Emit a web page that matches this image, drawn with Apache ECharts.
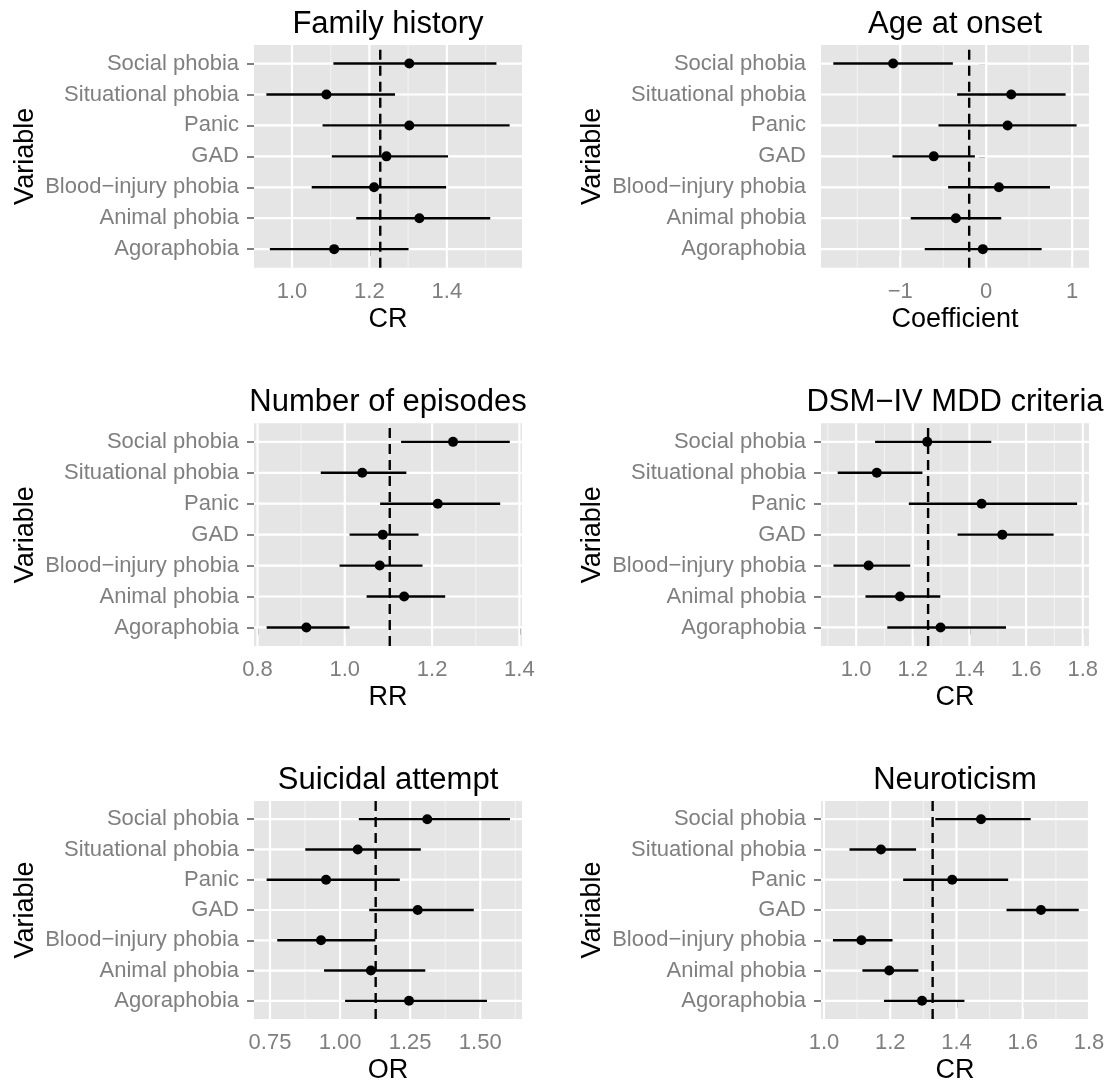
<!DOCTYPE html>
<html>
<head>
<meta charset="utf-8">
<script src="https://cdn.jsdelivr.net/npm/echarts@6/dist/echarts.min.js"></script>
<style>html,body{margin:0;padding:0;background:#fff}#c{width:1109px;height:1085px}</style>
</head>
<body>
<div id="c"></div>
<script>
// ---------- DATA ----------
// categories listed bottom -> top
const categories = ['Agoraphobia', 'Animal phobia', 'Blood\u2212injury phobia', 'GAD', 'Panic', 'Situational phobia', 'Social phobia'];
const panelTitles = ['Family history', 'Age at onset', 'Number of episodes', 'DSM\u2212IV MDD criteria', 'Suicidal attempt', 'Neuroticism'];
const axisTitles = ['CR', 'Coefficient', 'RR', 'CR', 'OR', 'CR'];
const refLines = [1.228, -0.198, 1.103, 1.254, 1.127, 1.328];

const familyEst  = [1.109, 1.329, 1.212, 1.244, 1.303, 1.089, 1.303];
const familyLow  = [0.943, 1.166, 1.051, 1.103, 1.079, 0.934, 1.107];
const familyHigh = [1.301, 1.512, 1.398, 1.403, 1.562, 1.266, 1.528];
const familyRange = [0.902, 1.594];
const familyTicks = [1.0, 1.2, 1.4];
const familyTickLabels = ['1.0', '1.2', '1.4'];
const familyMinor = [1.1, 1.3, 1.5];

const onsetEst  = [-0.039, -0.353, 0.148, -0.610, 0.249, 0.291, -1.083];
const onsetLow  = [-0.715, -0.878, -0.443, -1.091, -0.555, -0.338, -1.779];
const onsetHigh = [0.645, 0.175, 0.742, -0.132, 1.052, 0.924, -0.388];
const onsetRange = [-1.922, 1.196];
const onsetTicks = [-1, 0, 1];
const onsetTickLabels = ['\u22121', '0', '1'];
const onsetMinor = [-1.5, -0.5, 0.5];

const episodesEst  = [0.912, 1.136, 1.080, 1.087, 1.213, 1.040, 1.248];
const episodesLow  = [0.821, 1.050, 0.988, 1.011, 1.081, 0.945, 1.129];
const episodesHigh = [1.011, 1.230, 1.178, 1.169, 1.356, 1.141, 1.378];
const episodesRange = [0.792, 1.406];
const episodesTicks = [0.8, 1.0, 1.2, 1.4];
const episodesTickLabels = ['0.8', '1.0', '1.2', '1.4'];
const episodesMinor = [0.9, 1.1, 1.3];

const dsmEst  = [1.298, 1.155, 1.044, 1.516, 1.443, 1.073, 1.251];
const dsmLow  = [1.110, 1.033, 0.920, 1.358, 1.186, 0.935, 1.067];
const dsmHigh = [1.529, 1.297, 1.191, 1.697, 1.780, 1.234, 1.477];
const dsmRange = [0.876, 1.822];
const dsmTicks = [1.0, 1.2, 1.4, 1.6, 1.8];
const dsmTickLabels = ['1.0', '1.2', '1.4', '1.6', '1.8'];
const dsmMinor = [0.9, 1.1, 1.3, 1.5, 1.7];

const suicideEst  = [1.246, 1.110, 0.932, 1.277, 0.950, 1.063, 1.311];
const suicideLow  = [1.018, 0.943, 0.776, 1.104, 0.738, 0.876, 1.067];
const suicideHigh = [1.524, 1.304, 1.126, 1.477, 1.213, 1.288, 1.606];
const suicideRange = [0.693, 1.649];
const suicideTicks = [0.75, 1.00, 1.25, 1.50];
const suicideTickLabels = ['0.75', '1.00', '1.25', '1.50'];
const suicideMinor = [0.875, 1.125, 1.375, 1.625];

const neuroEst  = [1.296, 1.197, 1.113, 1.655, 1.387, 1.172, 1.474];
const neuroLow  = [1.181, 1.116, 1.027, 1.551, 1.239, 1.077, 1.336];
const neuroHigh = [1.424, 1.285, 1.207, 1.769, 1.556, 1.278, 1.624];
const neuroRange = [0.991, 1.800];
const neuroTicks = [1.0, 1.2, 1.4, 1.6, 1.8];
const neuroTickLabels = ['1.0', '1.2', '1.4', '1.6', '1.8'];
const neuroMinor = [1.1, 1.3, 1.5, 1.7];

// ---------- BUILD ----------
const panels = [
  {est: familyEst, low: familyLow, high: familyHigh, range: familyRange, ticks: familyTicks, labels: familyTickLabels, minor: familyMinor},
  {est: onsetEst, low: onsetLow, high: onsetHigh, range: onsetRange, ticks: onsetTicks, labels: onsetTickLabels, minor: onsetMinor},
  {est: episodesEst, low: episodesLow, high: episodesHigh, range: episodesRange, ticks: episodesTicks, labels: episodesTickLabels, minor: episodesMinor},
  {est: dsmEst, low: dsmLow, high: dsmHigh, range: dsmRange, ticks: dsmTicks, labels: dsmTickLabels, minor: dsmMinor},
  {est: suicideEst, low: suicideLow, high: suicideHigh, range: suicideRange, ticks: suicideTicks, labels: suicideTickLabels, minor: suicideMinor},
  {est: neuroEst, low: neuroLow, high: neuroHigh, range: neuroRange, ticks: neuroTicks, labels: neuroTickLabels, minor: neuroMinor}
];

const FONT = '"Liberation Sans", Arial, Helvetica, sans-serif';
const colLeft = [254, 821];
const rowTop = [45, 423.3, 801];
const W = 268, H = 222.7;
const YMIN = -0.6, YMAX = categories.length - 1 + 0.6;
const catIdx = categories.map((c, i) => i);

const grids = [], xAxes = [], yAxes = [], series = [], graphics = [];

panels.forEach((p, i) => {
  const col = i % 2, row = Math.floor(i / 2);
  const left = colLeft[col], top = rowTop[row];
  grids.push({left: left, top: top, width: W, height: H, show: true,
    backgroundColor: '#E5E5E5', borderWidth: 0});
  xAxes.push({
    gridIndex: i, type: 'value', min: p.range[0], max: p.range[1],
    axisLine: {show: false}, splitLine: {show: false},
    axisTick: {show: true, customValues: p.ticks, length: 7, lineStyle: {color: '#7F7F7F', width: 2}},
    axisLabel: {customValues: p.ticks, color: '#7F7F7F', fontSize: 22, fontFamily: FONT, margin: 13,
      formatter: v => { const k = p.ticks.findIndex(t => Math.abs(t - v) < 1e-9); return k >= 0 ? p.labels[k] : ''; }},
    name: axisTitles[i], nameLocation: 'middle', nameGap: 38,
    nameTextStyle: {color: '#000', fontSize: 27, fontFamily: FONT}
  });
  yAxes.push({
    gridIndex: i, type: 'value', min: YMIN, max: YMAX,
    axisLine: {show: false}, splitLine: {show: false},
    axisTick: {show: true, customValues: catIdx, length: 7, lineStyle: {color: '#7F7F7F', width: 2}},
    axisLabel: {customValues: catIdx, color: '#7F7F7F', fontSize: 22, fontFamily: FONT, margin: 15,
      formatter: v => categories[Math.round(v)] || ''},
    name: 'Variable', nameLocation: 'middle', nameGap: 215, nameRotate: 90,
    nameTextStyle: {color: '#000', fontSize: 27, fontFamily: FONT}
  });

  // grid lines (major vertical = 0, minor vertical = 1, horizontal category = 2)
  const gl = [];
  p.minor.forEach(v => gl.push([v, 1]));
  p.ticks.forEach(v => gl.push([v, 0]));
  catIdx.forEach(v => gl.push([v, 2]));
  series.push({
    type: 'custom', xAxisIndex: i, yAxisIndex: i, z: 1, silent: true, data: gl,
    renderItem: (params, api) => {
      const v = api.value(0), kind = api.value(1);
      let a, b;
      if (kind === 2) { a = api.coord([p.range[0], v]); b = api.coord([p.range[1], v]); }
      else { a = api.coord([v, YMIN]); b = api.coord([v, YMAX]); }
      return {type: 'line', shape: {x1: a[0], y1: a[1], x2: b[0], y2: b[1]},
        style: {stroke: kind === 1 ? '#F2F2F2' : '#FFFFFF', lineWidth: kind === 1 ? 1.1 : 2.2}};
    }
  });
  // dashed reference line
  series.push({
    type: 'custom', xAxisIndex: i, yAxisIndex: i, z: 2, silent: true, data: [[refLines[i]]],
    renderItem: (params, api) => {
      const a = api.coord([api.value(0), YMIN]), b = api.coord([api.value(0), YMAX]);
      return {type: 'line', shape: {x1: a[0], y1: a[1], x2: b[0], y2: b[1]},
        style: {stroke: '#000', lineWidth: 2.4, lineDash: [10, 6]}};
    }
  });
  // error bars
  series.push({
    type: 'custom', xAxisIndex: i, yAxisIndex: i, z: 3, silent: true,
    data: catIdx.map(k => [k, p.low[k], p.high[k]]),
    renderItem: (params, api) => {
      const k = api.value(0);
      const a = api.coord([api.value(1), k]), b = api.coord([api.value(2), k]);
      return {type: 'line', shape: {x1: a[0], y1: a[1], x2: b[0], y2: b[1]},
        style: {stroke: '#000', lineWidth: 2.4}};
    }
  });
  // points
  series.push({
    type: 'scatter', xAxisIndex: i, yAxisIndex: i, z: 4, silent: true,
    symbol: 'circle', symbolSize: 10, itemStyle: {color: '#000', opacity: 1},
    data: catIdx.map(k => [p.est[k], k])
  });
  // panel title
  graphics.push({type: 'text', x: left + W / 2, y: top - 36.5,
    style: {text: panelTitles[i], font: '31px ' + FONT, fill: '#000', textAlign: 'center', textVerticalAlign: 'top'}});
});

const chart = echarts.init(document.getElementById('c'), null, {renderer: 'canvas'});
chart.setOption({
  animation: false,
  backgroundColor: '#FFFFFF',
  grid: grids, xAxis: xAxes, yAxis: yAxes, series: series, graphic: graphics
});
</script>
</body>
</html>
